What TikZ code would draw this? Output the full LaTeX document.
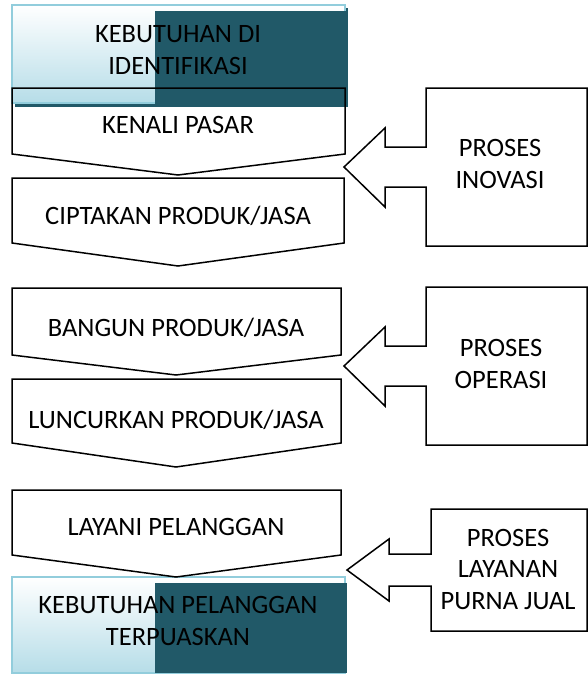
\documentclass[tikz,border=0pt]{standalone}
\usepackage{fontspec}
\setmainfont{Carlito}
\usepackage{tikz}

\definecolor{frameblue}{HTML}{92CDDC}
\definecolor{gradblue}{HTML}{B6DDE8}
\definecolor{darkteal}{HTML}{215968}

\begin{document}
\begin{tikzpicture}[x=1pt,y=-1pt,
 chevron/.style={draw=black,line width=1.5pt,line join=miter},
 callout/.style={draw=black,line width=1.5pt,line join=miter,fill=white},
 endbox/.style={draw=frameblue,line width=1.5pt,top color=white,bottom color=gradblue},
 txt/.style={font=\fontsize{26.5}{31.5}\selectfont,align=center,anchor=base,inner sep=0pt}]
 \useasboundingbox (0,0) rectangle (588,675);

 % start and end boxes
 \fill[darkteal] (15,8) rectangle (348,107);
 \path[endbox] (12,5) rectangle (345,103);
 \fill[darkteal] (155,11) rectangle (348,107);
 \path[endbox] (12,577) rectangle (345,673);
 \fill[darkteal] (155,583) rectangle (347,673);

 % steps
 \draw[chevron] (12,88) -- (345,88) -- (345,154) -- (178,175) -- (12,154) -- cycle;
 \draw[chevron] (12,178) -- (344,178) -- (344,243) -- (178,266) -- (12,243) -- cycle;
 \draw[chevron] (12,288) -- (341,288) -- (341,355) -- (176,375) -- (12,355) -- cycle;
 \draw[chevron] (12,379) -- (341,379) -- (341,443) -- (176,467) -- (12,443) -- cycle;
 \draw[chevron] (12,490) -- (341,490) -- (341,555) -- (176,577) -- (12,555) -- cycle;

 % processes
 \draw[callout] (587,88) -- (426,88) -- (426,147) -- (385,147) -- (385,128) -- (344,167)
  -- (385,207) -- (385,187) -- (426,187) -- (426,246) -- (587,246) -- cycle;
 \draw[callout] (587,287) -- (426,287) -- (426,346) -- (385,346) -- (385,327) -- (344,366)
  -- (385,406) -- (385,386) -- (426,386) -- (426,445) -- (587,445) -- cycle;
 \draw[callout] (587,509) -- (431,509) -- (431,554) -- (389,554) -- (389,539) -- (347,570)
  -- (389,601) -- (389,586) -- (431,586) -- (431,631) -- (587,631) -- cycle;

 \node[txt] (need) at (178,74) {KEBUTUHAN DI\\IDENTIFIKASI};
 \node[txt] (market) at (178,133) {KENALI PASAR};
 \node[txt] (create) at (178,224) {CIPTAKAN PRODUK/JASA};
 \node[txt] (build) at (176,336) {BANGUN PRODUK/JASA};
 \node[txt] (launch) at (176,428) {LUNCURKAN PRODUK/JASA};
 \node[txt] (serve) at (176,535) {LAYANI PELANGGAN};
 \node[txt] (satisfied) at (178,645) {KEBUTUHAN PELANGGAN\\TERPUASKAN};
 \node[txt] (innov) at (500,188) {PROSES\\INOVASI};
 \node[txt] (oper) at (501,388) {PROSES\\OPERASI};
 \node[txt] (after) at (508,609) {PROSES\\LAYANAN\\PURNA JUAL};
\end{tikzpicture}
\end{document}
